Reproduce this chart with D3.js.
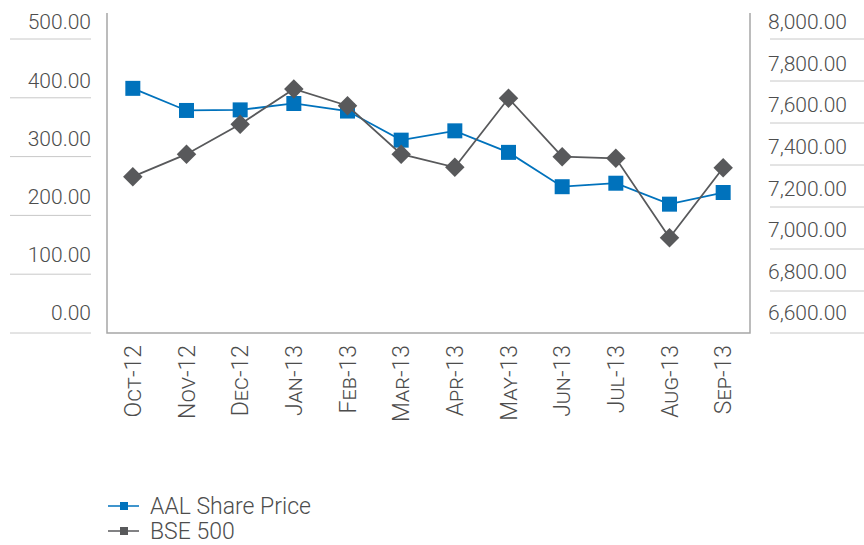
<!DOCTYPE html>
<html>
<head>
<meta charset="utf-8">
<script src="https://cdn.jsdelivr.net/npm/d3@7"></script>
<style>
  body { margin: 0; background: #fff; }
  svg text { font-family: Roboto, "Liberation Sans", Arial, sans-serif; font-weight: 300; fill: #4d4d4d; }
</style>
</head>
<body>
<svg id="chart" width="864" height="545"></svg>
<script>
// month labels
const months = ["Oct-12", "Nov-12", "Dec-12", "Jan-13", "Feb-13", "Mar-13",
  "Apr-13", "May-13", "Jun-13", "Jul-13", "Aug-13", "Sep-13"];
// AAL share price (left axis)
const aalPrice = [386, 348, 349, 360, 347, 297, 313, 276, 217, 223, 187, 207];
// BSE 500 index (right axis)
const bse500 = [7256, 7364, 7508, 7678, 7597, 7364, 7301, 7633, 7352, 7344, 6962, 7299];
const leftTicks = [0, 100, 200, 300, 400, 500];
const rightTicks = [6600, 6800, 7000, 7200, 7400, 7600, 7800, 8000];

const blue = "#0072bc";
const grey = "#58595b";

const svg = d3.select("#chart");

const x = d3.scalePoint().domain(months).range([106, 750]).padding(0.5);
const yL = d3.scaleLinear().domain([0, 500]).range([313, 22]);
const yR = d3.scaleLinear().domain([6600, 8000]).range([313, 22]);
// separator rules sit a little under each label
const ruleL = d3.scaleLinear().domain([0, 500]).range([333, 39]);
const ruleR = d3.scaleLinear().domain([6600, 8000]).range([333, 39]);

const fmtL = d3.format(",.2f");

// left axis labels + rules
const left = svg.append("g").attr("class", "left-axis");
left.selectAll("line")
  .data(leftTicks)
  .join("line")
  .attr("x1", 10).attr("x2", 91)
  .attr("y1", (d) => ruleL(d)).attr("y2", (d) => ruleL(d))
  .attr("stroke", "#c8c8c8").attr("stroke-width", 1);
left.selectAll("text")
  .data(leftTicks)
  .join("text")
  .attr("x", 91)
  .attr("y", (d) => yL(d))
  .attr("dy", "0.35em")
  .attr("text-anchor", "end")
  .style("font-size", "21px")
  .text(fmtL);

// right axis labels + rules
const right = svg.append("g").attr("class", "right-axis");
right.selectAll("line")
  .data(rightTicks)
  .join("line")
  .attr("x1", 770).attr("x2", 864)
  .attr("y1", (d) => ruleR(d)).attr("y2", (d) => ruleR(d))
  .attr("stroke", "#c8c8c8").attr("stroke-width", 1);
right.selectAll("text")
  .data(rightTicks)
  .join("text")
  .attr("x", 768)
  .attr("y", (d) => yR(d))
  .attr("dy", "0.35em")
  .style("font-size", "21px")
  .text(fmtL);

// plot frame (open top)
svg.append("path")
  .attr("d", "M107,13 V333 H750 V13")
  .attr("fill", "none")
  .attr("stroke", "#a6a6a6")
  .attr("stroke-width", 1.5);

// x labels, rotated
svg.append("g")
  .selectAll("text")
  .data(months)
  .join("text")
  .attr("transform", (d) => `translate(${x(d)},345) rotate(-90)`)
  .attr("dy", "0.36em")
  .attr("text-anchor", "end")
  .style("font-size", "23px")
  .style("font-variant", "small-caps")
  .text((d) => d);

// series lines
const lineL = d3.line().x((d, i) => x(months[i])).y((d) => yL(d));
const lineR = d3.line().x((d, i) => x(months[i])).y((d) => yR(d));

svg.append("path")
  .datum(aalPrice)
  .attr("d", lineL)
  .attr("fill", "none")
  .attr("stroke", blue)
  .attr("stroke-width", 1.8);

svg.append("g")
  .selectAll("path")
  .data(aalPrice)
  .join("path")
  .attr("d", d3.symbol(d3.symbolSquare, 225))
  .attr("transform", (d, i) => `translate(${x(months[i])},${yL(d)})`)
  .attr("fill", blue);

svg.append("path")
  .datum(bse500)
  .attr("d", lineR)
  .attr("fill", "none")
  .attr("stroke", grey)
  .attr("stroke-width", 1.8);

svg.append("g")
  .selectAll("path")
  .data(bse500)
  .join("path")
  .attr("d", d3.symbol(d3.symbolSquare, 190))
  .attr("transform", (d, i) => `translate(${x(months[i])},${yR(d)}) rotate(45)`)
  .attr("fill", grey);

// legend
const legend = svg.append("g").attr("class", "legend")
  .selectAll("g")
  .data([{ name: "AAL Share Price", color: blue }, { name: "BSE 500", color: grey }])
  .join("g")
  .attr("transform", (d, i) => `translate(0,${506 + i * 25})`);

legend.append("line")
  .attr("x1", 108).attr("x2", 139)
  .attr("stroke", (d) => d.color)
  .attr("stroke-width", 1.5);
legend.append("rect")
  .attr("x", 120).attr("y", -4)
  .attr("width", 8).attr("height", 8)
  .attr("fill", (d) => d.color);
legend.append("text")
  .attr("x", 150)
  .attr("dy", "0.36em")
  .style("font-size", "23px")
  .text((d) => d.name);
</script>
</body>
</html>
